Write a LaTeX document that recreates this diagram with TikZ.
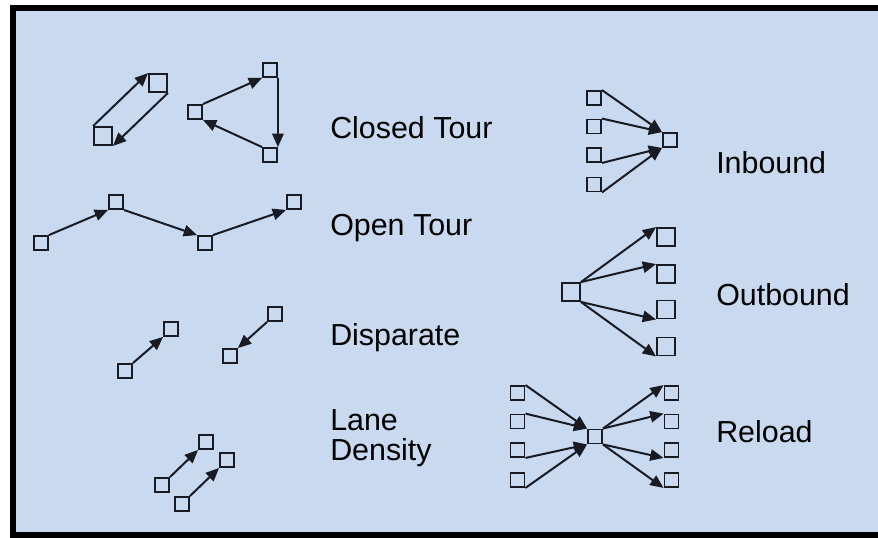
\documentclass[tikz,border=0pt]{standalone}
\usepackage{fontspec}
\setmainfont{Liberation Sans}
\usetikzlibrary{arrows.meta, positioning}
\definecolor{fundoA}{RGB}{200,217,240}
\definecolor{tinta}{RGB}{24,27,36}

\begin{document}
\begin{tikzpicture}[x=0.75pt, y=-0.75pt,
    sq/.style={rectangle, draw=tinta, line width=1.4pt, minimum size=10.5pt, inner sep=0pt},
    sqb/.style={sq, minimum size=13.5pt},
    lbl/.style={anchor=base west, inner sep=0pt, align=left,
      font=\fontsize{22.8}{22.5}\selectfont},
    arr/.style={-{Triangle[length=10pt, width=8.5pt]}, draw=tinta, line width=1.5pt}]
    \useasboundingbox (0,0) rectangle (878,537);
    \clip (0,0) rectangle (878,537);
    \fill[white] (0,0) rectangle (878,537);
    \draw[fill=fundoA, line width=4.3pt] (13,8) rectangle (900,535);

    % closed tour
    \node[sqb](a1) at (103,136){}; \node[sqb](a2) at (158,83){};
    \draw[arr](a1.north west)--(a2.north west); \draw[arr](a2.south east)--(a1.south east);
    \node[sq](t1) at (195,112){}; \node[sq](t2) at (270,70){}; \node[sq](t3) at (270,155){};
    \draw[arr](t1.north east)--(t2.south west); \draw[arr](t2.south east)--(t3.north east);
    \draw[arr](t3.north west)--(t1.south east);
    \node[lbl](closed) at (330,138){Closed Tour};

    % open tour
    \node[sq](o1) at (41,243){}; \node[sq](o2) at (116,202){};
    \node[sq](o3) at (205,243){}; \node[sq](o4) at (294,202){};
    \draw[arr](o1.north east)--(o2.south west); \draw[arr](o2.south east)--(o3.north west);
    \draw[arr](o3.north east)--(o4.south west);
    \node[lbl](open) at (330,235){Open Tour};

    % disparate
    \node[sq](d1) at (125,371){}; \node[sq](d2) at (171,329){};
    \node[sq](d3) at (275,314){}; \node[sq](d4) at (230,356){};
    \draw[arr](d1.north east)--(d2.south west); \draw[arr](d3.south west)--(d4.north east);
    \node[lbl](disp) at (330,345){Disparate};

    % lane density
    \node[sq](l1) at (162,485){}; \node[sq](l2) at (206,442){};
    \node[sq](l3) at (182,504){}; \node[sq](l4) at (227,460){};
    \draw[arr](l1.north east)--(l2.south west); \draw[arr](l3.north east)--(l4.south west);
    \node[lbl](lane) at (330,460){Lane\\Density};

    % inbound
    \node[sq](i1) at (594,98){}; \node[sq](i2) at (594,126.5){};
    \node[sq](i3) at (594,155){}; \node[sq](i4) at (594,184.5){};
    \node[sq](ic) at (670,140){};
    \draw[arr](i1.north east)--(ic.north west); \draw[arr](i2.north east)--(ic.north west);
    \draw[arr](i3.south east)--(ic.south west); \draw[arr](i4.south east)--(ic.south west);
    \node[lbl](inb) at (716,173){Inbound};

    % outbound
    \node[sqb](oc) at (571,292){};
    \node[sqb](q1) at (666,237){}; \node[sqb](q2) at (666,274){};
    \node[sqb](q3) at (666,309.5){}; \node[sqb](q4) at (666,346.5){};
    \draw[arr](oc.north east)--(q1.north west); \draw[arr](oc.north east)--(q2.north west);
    \draw[arr](oc.south east)--(q3.south west); \draw[arr](oc.south east)--(q4.south west);
    \node[lbl](outb) at (716,305){Outbound};

    % reload
    \node[sq](r1) at (517.5,393){}; \node[sq](r2) at (517.5,421.5){};
    \node[sq](r3) at (517.5,450){}; \node[sq](r4) at (517.5,480){};
    \node[sq](rc) at (595,436.5){};
    \node[sq](s1) at (671.5,393){}; \node[sq](s2) at (671.5,421.5){};
    \node[sq](s3) at (671.5,450){}; \node[sq](s4) at (671.5,480){};
    \draw[arr](r1.north east)--(rc.north west); \draw[arr](r2.north east)--(rc.north west);
    \draw[arr](r3.south east)--(rc.south west); \draw[arr](r4.south east)--(rc.south west);
    \draw[arr](rc.north east)--(s1.north west); \draw[arr](rc.north east)--(s2.north west);
    \draw[arr](rc.south east)--(s3.south west); \draw[arr](rc.south east)--(s4.south west);
    \node[lbl](rel) at (716,442){Reload};
  \end{tikzpicture}
\end{document}
